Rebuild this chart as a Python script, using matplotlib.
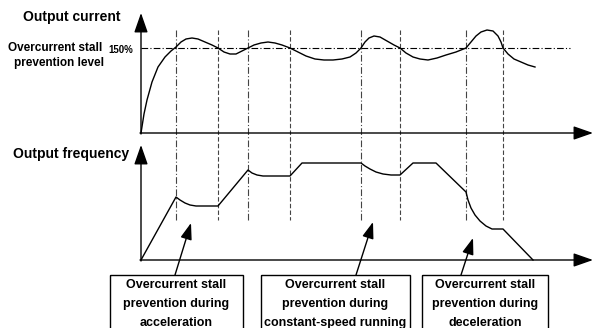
import matplotlib
matplotlib.use('Agg')
import matplotlib.pyplot as plt

plt.rcParams['font.family'] = ['Liberation Sans', 'DejaVu Sans']

# points (pixel coords, y downwards)
cur_x = [141, 144, 147, 152, 158, 165, 171, 176, 181, 186, 192, 198, 205, 212, 218, 224, 230, 236,
         242, 248, 254, 261, 268, 275, 282, 290, 298, 306, 315, 324, 333, 342, 350, 356, 361, 365,
         369, 374, 380, 387, 394, 400, 406, 413, 420, 428, 437, 446, 456, 466, 471, 476, 481, 487,
         493, 498, 501, 503, 508, 514, 521, 528, 535]
cur_y = [133, 114, 100, 82, 67, 57, 51, 47, 42, 39, 38, 39, 42, 45, 48, 52, 54, 54,
         51, 48, 45, 43, 42, 43, 45, 48, 52, 56, 59, 60, 60, 59, 57, 53, 48, 42,
         38, 36, 37, 41, 45, 48, 53, 57, 59, 60, 58, 55, 52, 48, 42, 36, 32, 30,
         31, 36, 42, 48, 54, 59, 62, 65, 67]

freq_x = [141, 176, 180, 185, 190, 196, 218, 248, 252, 257, 263, 290, 302, 361, 365, 370, 376, 383,
          391, 400, 413, 436, 466, 468, 471, 475, 480, 486, 492, 503, 533]
freq_y = [260, 197, 200, 203, 205, 206, 206, 170, 173, 175, 176, 176, 163, 163, 166, 169, 172, 174,
          175, 175, 163, 163, 192, 200, 208, 215, 221, 226, 229, 229, 260]

markers_x = [176, 218, 248, 290, 361, 400, 466, 503]
level_y = 48

boxes = [
    ("Overcurrent stall\nprevention during\nacceleration", 110, 243, 175, 191, 223),
    ("Overcurrent stall\nprevention during\nconstant-speed running", 261, 410, 356, 373, 222),
    ("Overcurrent stall\nprevention during\ndeceleration", 422, 548, 461, 473, 238),
]

fig = plt.figure(figsize=(6.06, 3.28), dpi=100)
ax = fig.add_axes([0, 0, 1, 1])
ax.set_xlim(0, 606)
ax.set_ylim(328, 0)
ax.axis('off')

ap = dict(arrowstyle='-|>,head_length=1.0,head_width=0.35', color='black', lw=1.0,
          mutation_scale=12, shrinkA=0, shrinkB=0)
ap_small = dict(ap, mutation_scale=10)

# axes of the two graphs
ax.annotate('', xy=(141, 13), xytext=(141, 134), arrowprops=ap)
ax.annotate('', xy=(593, 133), xytext=(140, 133), arrowprops=ap)
ax.annotate('', xy=(141, 145), xytext=(141, 261), arrowprops=ap)
ax.annotate('', xy=(593, 260), xytext=(140, 260), arrowprops=ap)

# stall level
ax.plot([141, 570], [level_y, level_y], color='black', lw=0.8, ls=(0, (6, 2, 1, 2)))

for i, mx in enumerate(markers_x):
    ls = (0, (6, 2, 1, 2)) if i % 2 == 0 else (0, (4, 2))
    ax.plot([mx, mx], [30, 220], color='#444444', lw=0.8, ls=ls)

ax.plot(cur_x, cur_y, color='black', lw=1.0)
ax.plot(freq_x, freq_y, color='black', lw=1.0)

ax.text(23, 17, "Output current", fontsize=10, fontweight='bold', va='center', ha='left')
ax.text(8, 48, "Overcurrent stall", fontsize=8.5, fontweight='bold', va='center', ha='left')
ax.text(14, 63, "prevention level", fontsize=8.5, fontweight='bold', va='center', ha='left')
ax.text(108, 50, "150%", fontsize=7, fontweight='bold', va='center', ha='left')
ax.text(13, 154, "Output frequency", fontsize=10, fontweight='bold', va='center', ha='left')

for label, x0, x1, ax0, tipx, tipy in boxes:
    ax.add_patch(plt.Rectangle((x0, 275), x1 - x0, 60, fill=False, ec='black', lw=1.0))
    for j, ln in enumerate(label.split('\n')):
        ax.text((x0 + x1) / 2, 285 + j * 19, ln, fontsize=9, fontweight='bold',
                ha='center', va='center')
    ax.annotate('', xy=(tipx, tipy), xytext=(ax0, 275), arrowprops=ap_small)

fig.savefig('out.png', dpi=100)
